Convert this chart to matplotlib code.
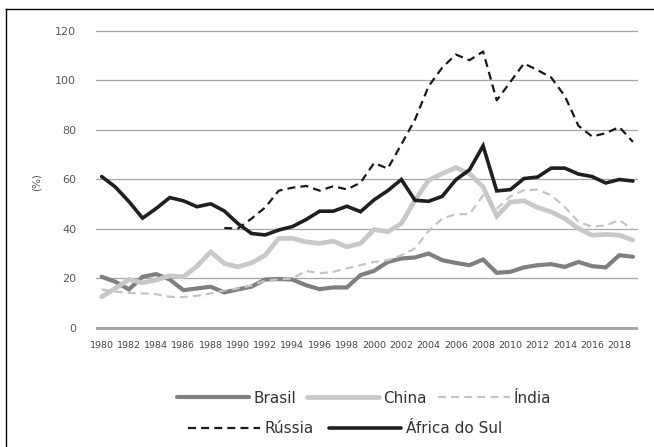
import matplotlib
matplotlib.use("Agg")
import matplotlib.pyplot as plt
import numpy as np
from matplotlib import font_manager
from matplotlib.lines import Line2D

# data (% values)
years = list(range(1980, 2020))
brasil = [20.5, 18.5, 15.4, 20.5, 21.6, 19.4, 15.1, 15.8, 16.5, 14.2,
          15.4, 16.5, 19.4, 19.6, 19.4, 17.1, 15.5, 16.2, 16.2, 21.2,
          22.9, 26.5, 27.9, 28.3, 29.9, 27.2, 26.1, 25.2, 27.5, 22.1,
          22.5, 24.3, 25.2, 25.6, 24.5, 26.5, 24.8, 24.3, 29.2, 28.6]
china = [12.4, 15.8, 19.4, 18.1, 19.2, 20.9, 20.5, 24.8, 30.6, 25.9,
         24.5, 26.1, 29.2, 36.0, 36.0, 34.6, 34.0, 34.9, 32.6, 34.0,
         39.6, 38.7, 42.0, 51.4, 59.5, 62.2, 64.6, 62.2, 56.8, 45.0,
         50.7, 51.2, 48.5, 46.7, 44.0, 40.0, 37.3, 37.6, 37.3, 35.3]
india = [15.4, 14.5, 14.0, 13.8, 13.5, 12.4, 12.3, 12.8, 13.8, 15.0,
         15.8, 17.0, 19.0, 19.5, 19.8, 22.9, 21.9, 22.5, 23.9, 25.2,
         26.5, 27.2, 29.2, 32.0, 39.0, 44.0, 45.8, 45.8, 53.4, 48.0,
         53.0, 55.5, 55.7, 53.4, 48.7, 42.7, 40.7, 41.3, 43.4, 39.6]
# Russia series starts in 1989
russia = [np.nan] * 9 + [40.2, 40.0, 44.0, 48.5, 55.3, 56.5, 57.2, 55.3, 57.1, 55.8,
                         58.5, 66.5, 64.2, 74.0, 84.0, 97.5, 105.0, 110.3, 108.0, 111.5,
                         91.8, 99.2, 106.7, 104.0, 101.0, 93.5, 81.5, 77.2, 78.5, 81.0,
                         75.0]
africa = [61.0, 56.8, 50.9, 44.2, 48.1, 52.5, 51.2, 48.8, 50.0, 47.1,
          42.0, 38.0, 37.4, 39.4, 40.8, 43.6, 47.0, 47.0, 49.0, 46.8,
          51.6, 55.3, 59.8, 51.4, 51.0, 53.0, 59.7, 63.7, 73.4, 55.2,
          55.7, 60.2, 60.8, 64.4, 64.4, 62.0, 61.0, 58.4, 59.8, 59.2]
xticks = list(range(1980, 2019, 2))
yticks = list(range(0, 121, 20))

installed = {f.name for f in font_manager.fontManager.ttflist}
if 'Liberation Sans Narrow' in installed:
    narrow, xfs, lfs = 'Liberation Sans Narrow', 8.0, 14.0
else:
    narrow, xfs, lfs = 'DejaVu Sans', 6.8, 11.0

fig = plt.figure(figsize=(6.54, 4.47), dpi=100)
ax = fig.add_axes([0.1463, 0.2617, 0.8292, 0.6756])

ax.set_xlim(1979.56, 2019.37)
ax.set_ylim(-1, 121)
ax.set_yticks(yticks)
ax.set_xticks(xticks)
ax.grid(axis='y', color='#a6a6a6', lw=0.9, zorder=0)
ax.axhline(0, color='#8c8c8c', lw=1.8, zorder=1)
for s in ax.spines.values():
    s.set_visible(False)
ax.tick_params(length=0)
ax.tick_params(axis='y', pad=14, labelsize=8, labelcolor='#595959')
ax.tick_params(axis='x', pad=8, labelcolor='#444444')
for lab in ax.get_xticklabels():
    lab.set_fontfamily(narrow)
    lab.set_fontsize(xfs)

l_br, = ax.plot(years, brasil, color='#7f7f7f', lw=3.0, label='Brasil',
                solid_capstyle='round', solid_joinstyle='miter', zorder=3)
l_ch, = ax.plot(years, china, color='#c8c8c8', lw=3.4, label='China',
                solid_capstyle='round', solid_joinstyle='miter', zorder=3)
l_in, = ax.plot(years, india, color='#c4c4c4', lw=1.6, ls=(0, (3.6, 2.3)),
                label='Índia', zorder=3)
l_ru, = ax.plot(years, russia, color='#1a1a1a', lw=1.6, ls=(0, (3.6, 2.3)),
                label='Rússia', zorder=3)
l_af, = ax.plot(years, africa, color='#1f1f1f', lw=2.6, label='África do Sul',
                solid_capstyle='round', solid_joinstyle='miter', zorder=3)

ax.set_ylabel('(%)', fontsize=7.5, color='#595959')
ax.yaxis.set_label_coords(-0.099, 0.49)

hl = 72 / (lfs * 100 / 72)
common = dict(loc='center', frameon=False, handlelength=hl, handletextpad=0.3,
              prop={'family': narrow, 'size': lfs}, labelcolor='#333333',
              borderaxespad=0, borderpad=0)
fig.legend(handles=[l_br, l_ch, l_in], bbox_to_anchor=(0.557, 0.1096), ncol=3,
           columnspacing=0.7, **common)
fig.legend(handles=[l_ru, l_af], bbox_to_anchor=(0.528, 0.0403), ncol=2,
           columnspacing=1.0, **common)

# outer frame (only left and top edges are visible in the reference)
fy = 1 - 9 / 447
fx = 6 / 654
fig.add_artist(Line2D([fx, fx], [0, fy], color='black', lw=1.0, transform=fig.transFigure))
fig.add_artist(Line2D([fx, 1], [fy, fy], color='black', lw=1.0, transform=fig.transFigure))

fig.savefig('out.png', dpi=100)
